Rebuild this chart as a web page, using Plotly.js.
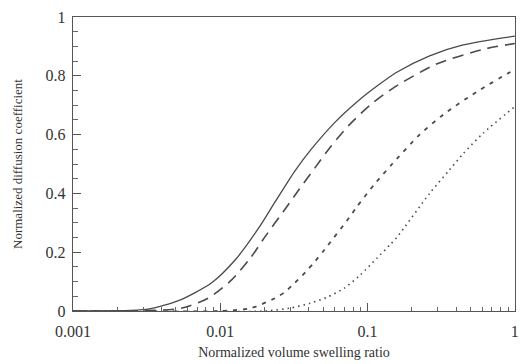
<!DOCTYPE html>
<html><head><meta charset="utf-8">
<script src="https://cdn.plot.ly/plotly-3.0.1.min.js"></script>
<style>html,body{margin:0;padding:0;background:#fff}#chart{width:520px;height:364px}</style>
</head><body><div id="chart"></div>
<script>
// Solid curve
const solidX = [0.001, 0.0025, 0.0033, 0.0052, 0.0087, 0.0127, 0.0181, 0.0235, 0.032, 0.041, 0.0596, 0.089, 0.116, 0.158, 0.264, 0.446, 1.0];
const solidY = [0.0, 0.002, 0.007, 0.035, 0.095, 0.175, 0.28, 0.37, 0.475, 0.547, 0.64, 0.72, 0.765, 0.812, 0.868, 0.905, 0.935];
// Long dashed curve
const dashX = [0.001, 0.003, 0.0055, 0.0083, 0.0119, 0.016, 0.0205, 0.0267, 0.0337, 0.0438, 0.056, 0.0752, 0.104, 0.151, 0.294, 0.61, 1.0];
const dashY = [0.0, 0.001, 0.01, 0.044, 0.105, 0.18, 0.258, 0.337, 0.408, 0.486, 0.558, 0.633, 0.70, 0.76, 0.84, 0.89, 0.91];
// Short dashed curve
const sdashX = [0.001, 0.01, 0.0162, 0.0236, 0.0275, 0.032, 0.038, 0.0437, 0.0513, 0.0752, 0.0851, 0.111, 0.147, 0.226, 0.331, 0.55, 0.91, 1.0];
const sdashY = [0.0, 0.0, 0.01, 0.044, 0.065, 0.095, 0.133, 0.167, 0.21, 0.318, 0.356, 0.43, 0.50, 0.60, 0.67, 0.745, 0.81, 0.82];
// Dotted curve
const dotX = [0.001, 0.02, 0.030, 0.0411, 0.0537, 0.0697, 0.089, 0.116, 0.142, 0.158, 0.264, 0.36, 0.446, 0.61, 1.0];
const dotY = [0.0, 0.0, 0.01, 0.027, 0.048, 0.078, 0.122, 0.18, 0.225, 0.25, 0.40, 0.48, 0.535, 0.605, 0.695];

const xTickVals = [0.001, 0.01, 0.1, 1];
const xTickText = ["0.001", "0.01", "0.1", "1"];
const yTickVals = [0, 0.2, 0.4, 0.6, 0.8, 1];
const yTickText = ["0", "0.2", "0.4", "0.6", "0.8", "1"];
const decades = [0.001, 0.01, 0.1];
const mantissas = [2, 3, 4, 5, 6, 7, 8, 9];
const xMinorVals = [];
decades.forEach(d => mantissas.forEach(m => xMinorVals.push(+(m * d).toPrecision(3))));

const lineColor = '#4a4a4a';
function tr(x, y, dash, w) {
  return {x: x, y: y, type: 'scatter', mode: 'lines', line: {color: lineColor, width: w, dash: dash, shape: 'spline', smoothing: 0.7}, hoverinfo: 'skip'};
}
const data = [
  tr(solidX, solidY, 'solid', 1.3),
  tr(dashX, dashY, '11px,7px', 1.6),
  tr(sdashX, sdashY, '4px,6px', 1.8),
  tr(dotX, dotY, '1.5px,4px', 1.6)
];
const fam = '"Liberation Serif", "Times New Roman", Times, serif';
const layout = {
  width: 520, height: 364,
  margin: {l: 73, r: 5, t: 17, b: 53},
  paper_bgcolor: '#fff', plot_bgcolor: '#fff',
  showlegend: false,
  font: {family: fam, color: '#333'},
  xaxis: {
    type: 'log', range: [-3, 0.0015],
    tickvals: xTickVals, ticktext: xTickText,
    ticks: 'inside', ticklen: 8, tickwidth: 1, tickcolor: '#555',
    minor: {tickvals: xMinorVals, ticks: 'inside', ticklen: 4, tickcolor: '#666', showgrid: false},
    showline: true, linecolor: '#555', linewidth: 1.3, mirror: true,
    showgrid: false, zeroline: false,
    ticklabelstandoff: 5,
    ticklabeloverflow: 'allow',
    tickfont: {family: fam, size: 16, color: '#333'},
    title: {text: 'Normalized volume swelling ratio', font: {family: fam, size: 14, color: '#333'}, standoff: 8}
  },
  yaxis: {
    range: [0, 1],
    tickvals: yTickVals, ticktext: yTickText,
    ticks: 'inside', ticklen: 8, tickwidth: 1, tickcolor: '#555',
    minor: {ticks: 'inside', ticklen: 5, dtick: 0.05, tickcolor: '#666', showgrid: false},
    showline: true, linecolor: '#555', linewidth: 1.3, mirror: true,
    showgrid: false, zeroline: false,
    ticklabelstandoff: 3,
    tickfont: {family: fam, size: 16, color: '#333'},
    title: {text: 'Normalized diffusion coefficient', font: {family: fam, size: 13, color: '#333'}, standoff: 20}
  }
};
Plotly.newPlot('chart', data, layout, {staticPlot: true, displayModeBar: false});
</script></body></html>
